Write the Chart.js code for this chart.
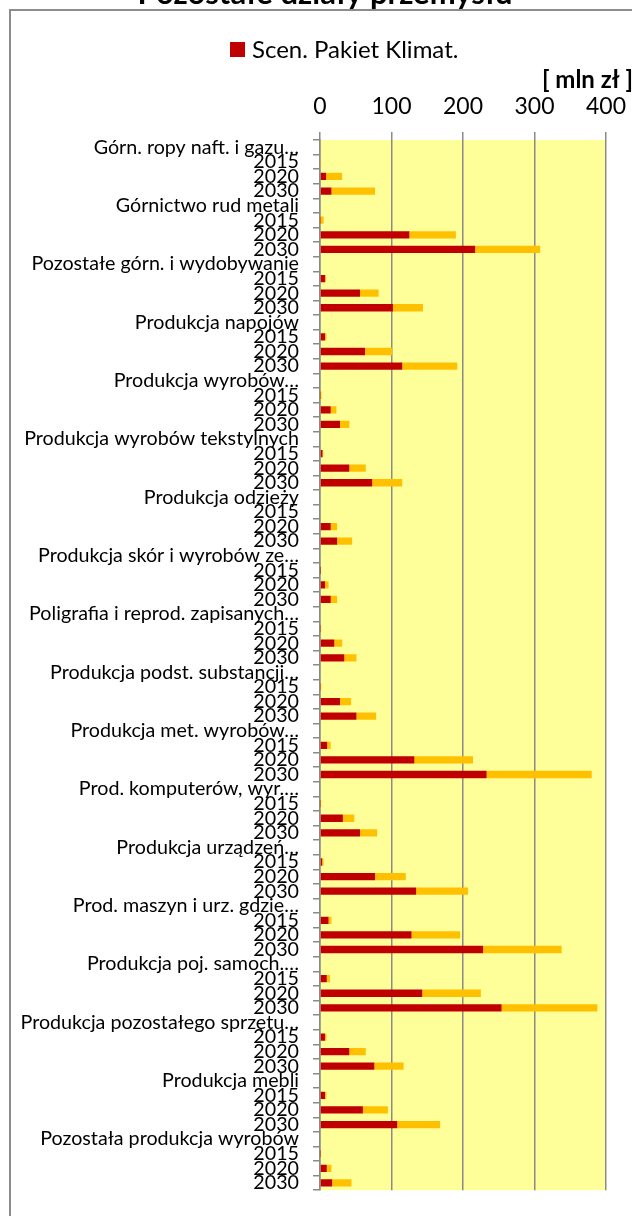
<!DOCTYPE html>
<html>
<head>
<meta charset="utf-8">
<script src="https://cdn.jsdelivr.net/npm/chart.js@4"></script>
<style>
    body { margin: 0; background: #fff; }
    canvas { display: block; }
</style>
</head>
<body>
<canvas id="chart" width="632" height="1216"></canvas>
<script>
// Pozostałe działy przemysłu - stacked horizontal bars, Chart.js

const chartTitle = 'Pozostałe działy przemysłu';
const unitLabel = '[ mln zł ]';

const groups = [
    'Górn. ropy naft. i gazu…',
    'Górnictwo rud metali',
    'Pozostałe górn. i wydobywanie',
    'Produkcja napojów',
    'Produkcja wyrobów…',
    'Produkcja wyrobów tekstylnych',
    'Produkcja odzieży',
    'Produkcja skór i wyrobów ze…',
    'Poligrafia i reprod. zapisanych…',
    'Produkcja podst. substancji…',
    'Produkcja met. wyrobów…',
    'Prod. komputerów, wyr.…',
    'Produkcja urządzeń…',
    'Prod. maszyn i urz. gdzie…',
    'Produkcja poj. samoch.…',
    'Produkcja pozostałego sprzętu…',
    'Produkcja mebli',
    'Pozostała produkcja wyrobów'
];

const years = ['2015', '2020', '2030'];

// red part: Scen. Pakiet Klimat. (one row of 2015/2020/2030 per group)
const pakietKlimat = [
    [1, 8.5, 16],
    [0.5, 125, 217],
    [7, 56, 102],
    [7, 63, 115],
    [0.5, 15, 28],
    [3.5, 41, 73],
    [0, 15, 24],
    [0.3, 7, 15],
    [0.5, 20, 34],
    [0.5, 28, 51],
    [10, 132, 233],
    [0.5, 32, 56],
    [3, 77, 134.5],
    [12, 128, 228],
    [9.5, 143, 254],
    [7, 41, 76],
    [7, 60, 108],
    [0.5, 9.5, 17]
];

// yellow part stacked on top of the red one
const dodatkowo = [
    [0.5, 22.5, 61],
    [4.5, 65, 91],
    [1.5, 26, 42],
    [2, 38, 77],
    [1.5, 8, 13],
    [1, 23, 42],
    [0, 9, 21],
    [0.3, 5, 9],
    [0.5, 11, 17],
    [1, 15.5, 27.5],
    [5, 82, 147],
    [1, 16, 24],
    [2, 43, 72.5],
    [4, 68, 110],
    [4.5, 82, 134],
    [2, 23, 41],
    [2, 35, 60],
    [0.5, 6.5, 27]
];

const xTicks = [0, 100, 200, 300, 400];

// one label row per group followed by the year rows
const labels = [];
const redRows = [];
const yellowRows = [];
groups.forEach((g, i) => {
    labels.push(g);
    redRows.push(null);
    yellowRows.push(null);
    years.forEach((y, j) => {
        labels.push(y);
        redRows.push(pakietKlimat[i][j]);
        yellowRows.push(dodatkowo[i][j]);
    });
});

const FONT = 'Lato';
const GRID = '#8a8a8a';

const decorPlugin = {
    id: 'decor',
    beforeDraw(chart) {
        const ctx = chart.ctx;
        const a = chart.chartArea;
        ctx.save();
        ctx.fillStyle = '#fff';
        ctx.fillRect(0, 0, chart.width, chart.height);
        // plot background
        ctx.fillStyle = '#ffff99';
        ctx.fillRect(a.left, a.top, a.right - a.left, a.bottom - a.top);
        // outer frame
        ctx.strokeStyle = '#8c8c8c';
        ctx.lineWidth = 2;
        ctx.strokeRect(10, 10, chart.width + 40, chart.height + 40);
        ctx.restore();
    },
    afterDraw(chart) {
        const ctx = chart.ctx;
        ctx.save();
        ctx.fillStyle = '#000';
        ctx.font = `bold 31px ${FONT}`;
        ctx.textAlign = 'center';
        ctx.textBaseline = 'alphabetic';
        ctx.fillText(chartTitle, 325, 4);

        // legend (first series only)
        const ds = chart.data.datasets[0];
        ctx.fillStyle = ds.backgroundColor;
        ctx.fillRect(230, 42, 15, 15);
        ctx.fillStyle = '#000';
        ctx.font = `24px ${FONT}`;
        ctx.textAlign = 'left';
        ctx.textBaseline = 'middle';
        ctx.fillText(ds.label, 252, 50);

        ctx.font = `bold 24px ${FONT}`;
        ctx.textAlign = 'right';
        ctx.fillText(unitLabel, 633, 80);
        ctx.restore();
    }
};

new Chart(document.getElementById('chart'), {
    type: 'bar',
    data: {
        labels: labels,
        datasets: [
            {
                label: 'Scen. Pakiet Klimat.',
                data: redRows,
                backgroundColor: '#c00000',
                categoryPercentage: 1,
                barPercentage: 0.5
            },
            {
                label: 'Dodatkowo',
                data: yellowRows,
                backgroundColor: '#ffc000',
                categoryPercentage: 1,
                barPercentage: 0.5
            }
        ]
    },
    options: {
        indexAxis: 'y',
        responsive: false,
        animation: false,
        layout: { padding: { left: 0, right: 26, top: 0, bottom: 24 } },
        plugins: {
            legend: { display: false },
            title: { display: false },
            tooltip: { enabled: false }
        },
        scales: {
            x: {
                position: 'top',
                stacked: true,
                min: 0,
                max: 400,
                afterBuildTicks: s => { s.ticks = xTicks.map(v => ({ value: v })); },
                ticks: {
                    color: '#000',
                    font: { family: FONT, size: 23 },
                    padding: 12
                },
                grid: { color: GRID, lineWidth: 1.5, tickLength: 8 },
                border: { display: false },
                afterFit: s => {
                    s.height = 140;
                    // keep the plot edge set by layout padding, not by the "400" label
                    s.paddingLeft = 0;
                    s.paddingRight = 0;
                }
            },
            y: {
                stacked: true,
                ticks: {
                    autoSkip: false,
                    color: '#000',
                    font: { family: FONT, size: 19.7 },
                    padding: 14
                },
                grid: {
                    offset: true,
                    drawOnChartArea: false,
                    tickLength: 7,
                    color: GRID,
                    lineWidth: 1.5
                },
                border: { color: GRID, width: 1.5 },
                afterFit: s => { s.width = 320; }
            }
        }
    },
    plugins: [decorPlugin]
});
</script>
</body>
</html>
